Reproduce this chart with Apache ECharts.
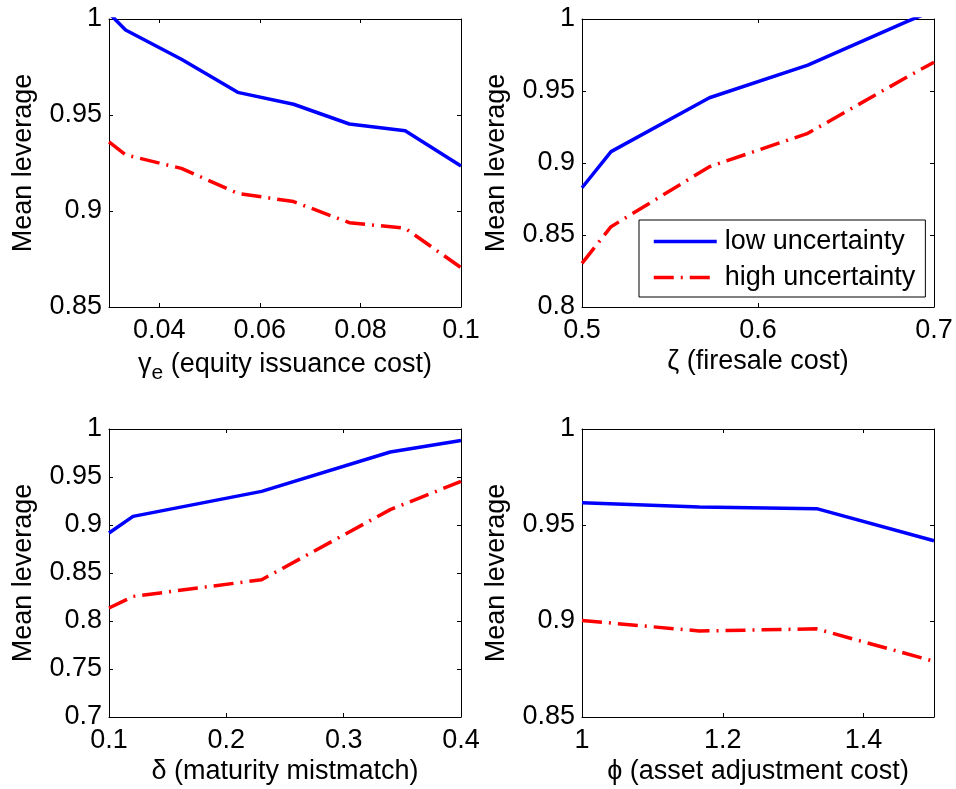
<!DOCTYPE html>
<html><head><meta charset="utf-8">
<script src="https://cdn.jsdelivr.net/npm/echarts@6/dist/echarts.min.js"></script>
<style>html,body{margin:0;padding:0;background:#fff}#c{width:956px;height:789px}</style>
</head><body><div id="c"></div>
<script>
const seriesNames = ['low uncertainty', 'high uncertainty'];
const yAxisTitle = 'Mean leverage';

// Panel 1: equity issuance cost
const p1X = [0.03, 0.0333, 0.0444, 0.0556, 0.0667, 0.0778, 0.0889, 0.1];
const p1Low = [1.003, 0.9943, 0.979, 0.9618, 0.9556, 0.9453, 0.9418, 0.9234];
const p1High = [0.936, 0.9292, 0.9222, 0.9092, 0.9049, 0.8939, 0.891, 0.8705];
const p1XTicks = [0.04, 0.06, 0.08, 0.1];
const p1YTicks = [0.85, 0.9, 0.95, 1];

// Panel 2: firesale cost
const p2X = [0.5, 0.5165, 0.5724, 0.6283, 0.6842, 0.7];
const p2Low = [0.8828, 0.9079, 0.9453, 0.968, 0.998, 1.006];
const p2High = [0.8303, 0.8558, 0.8974, 0.9206, 0.9594, 0.970];
const p2XTicks = [0.5, 0.6, 0.7];
const p2YTicks = [0.8, 0.85, 0.9, 0.95, 1];

// Panel 3: maturity mismatch
const p3X = [0.1, 0.1205, 0.2301, 0.3397, 0.4];
const p3Low = [0.8917, 0.909, 0.935, 0.976, 0.9881];
const p3High = [0.8135, 0.8256, 0.843, 0.916, 0.9454];
const p3XTicks = [0.1, 0.2, 0.3, 0.4];
const p3YTicks = [0.7, 0.75, 0.8, 0.85, 0.9, 0.95, 1];

// Panel 4: asset adjustment cost
const p4X = [1, 1.1667, 1.3333, 1.5];
const p4Low = [0.9616, 0.9594, 0.9585, 0.9418];
const p4High = [0.9003, 0.8948, 0.8959, 0.879];
const p4XTicks = [1, 1.2, 1.4];
const p4YTicks = [0.85, 0.9, 0.95, 1];

const FONT = '"Liberation Sans", Arial, Helvetica, sans-serif';
const FS = 27;
const rich = {
  a: {fontSize: FS, fontFamily: FONT, color: '#000'},
  b: {fontSize: 21, fontFamily: FONT, color: '#000', padding: [18, 0, 0, 0]}
};

const panels = [
  {x: p1X, lo: p1Low, hi: p1High, xr: [0.03, 0.1], yr: [0.85, 1], xt: p1XTicks, yt: p1YTicks,
   name: '{a|γ}{b|e}{a| (equity issuance cost)}', gap: 38, grid: {left: 109, top: 19, width: 352, height: 288}},
  {x: p2X, lo: p2Low, hi: p2High, xr: [0.5, 0.7], yr: [0.8, 1], xt: p2XTicks, yt: p2YTicks,
   name: '{a|ζ (firesale cost)}', gap: 41, grid: {left: 582, top: 19, width: 352, height: 288}},
  {x: p3X, lo: p3Low, hi: p3High, xr: [0.1, 0.4], yr: [0.7, 1], xt: p3XTicks, yt: p3YTicks,
   name: '{a|δ (maturity mistmatch)}', gap: 41, grid: {left: 109, top: 429, width: 352, height: 288}},
  {x: p4X, lo: p4Low, hi: p4High, xr: [1, 1.5], yr: [0.85, 1], xt: p4XTicks, yt: p4YTicks,
   name: '{a|ϕ (asset adjustment cost)}', gap: 41, grid: {left: 582, top: 429, width: 352, height: 288}}
];

const fmt = v => String(parseFloat(Number(v).toFixed(4)));
const line = {show: true, onZero: false, lineStyle: {color: '#000', width: 1}};

const grids = [], xAxes = [], yAxes = [], series = [];
panels.forEach((p, i) => {
  grids.push(Object.assign({show: false, containLabel: false, outerBoundsMode: 'none'}, p.grid));
  const tick = vals => ({show: true, inside: true, length: 4, customValues: vals, lineStyle: {color: '#000', width: 1}});
  xAxes.push({
    gridIndex: i, type: 'value', min: p.xr[0], max: p.xr[1], position: 'bottom',
    axisLine: line, axisTick: tick(p.xt), splitLine: {show: false},
    axisLabel: {customValues: p.xt, formatter: fmt, fontSize: FS, fontFamily: FONT, color: '#000', margin: 10, hideOverlap: false, showMinLabel: true, showMaxLabel: true},
    name: p.name, nameLocation: 'middle', nameGap: p.gap,
    nameTextStyle: {rich: rich, fontSize: FS, fontFamily: FONT, color: '#000'}
  });
  xAxes.push({
    gridIndex: i, type: 'value', min: p.xr[0], max: p.xr[1], position: 'top',
    axisLine: line, axisTick: tick(p.xt), splitLine: {show: false}, axisLabel: {show: false}
  });
  yAxes.push({
    gridIndex: i, type: 'value', min: p.yr[0], max: p.yr[1], position: 'left',
    axisLine: line, axisTick: tick(p.yt), splitLine: {show: false},
    axisLabel: {customValues: p.yt, formatter: fmt, fontSize: FS, fontFamily: FONT, color: '#000', margin: 7, hideOverlap: false, showMinLabel: true, showMaxLabel: true},
    name: yAxisTitle, nameLocation: 'middle', nameGap: 72,
    nameTextStyle: {fontSize: FS, fontFamily: FONT, color: '#000'}
  });
  yAxes.push({
    gridIndex: i, type: 'value', min: p.yr[0], max: p.yr[1], position: 'right',
    axisLine: line, axisTick: tick(p.yt), splitLine: {show: false}, axisLabel: {show: false}
  });
  series.push({
    type: 'line', name: seriesNames[0], xAxisIndex: 2 * i, yAxisIndex: 2 * i,
    data: p.x.map((v, k) => [v, p.lo[k]]), symbol: 'none', clip: true,
    lineStyle: {color: '#0000ff', width: 3.5}, itemStyle: {color: '#0000ff'}
  });
  series.push({
    type: 'line', name: seriesNames[1], xAxisIndex: 2 * i, yAxisIndex: 2 * i,
    data: p.x.map((v, k) => [v, p.hi[k]]), symbol: 'none', clip: true,
    lineStyle: {color: '#ff0000', width: 3.5, type: [20, 7, 2, 7]}, itemStyle: {color: '#ff0000'}
  });
});

const chart = echarts.init(document.getElementById('c'), null, {renderer: 'canvas'});
chart.setOption({
  animation: false,
  backgroundColor: '#fff',
  grid: grids, xAxis: xAxes, yAxis: yAxes, series: series,
  legend: {
    data: seriesNames, orient: 'vertical', left: 639, top: 220,
    padding: [8, 10, 6, 13], itemGap: 9, itemWidth: 63, itemHeight: 14,
    borderColor: '#000', borderWidth: 1, backgroundColor: '#fff',
    itemStyle: {opacity: 0},
    lineStyle: {width: 3.5},
    textStyle: {fontSize: FS, fontFamily: FONT, color: '#000', lineHeight: 27, padding: [0, 0, 0, 3]}
  }
});
</script></body></html>
